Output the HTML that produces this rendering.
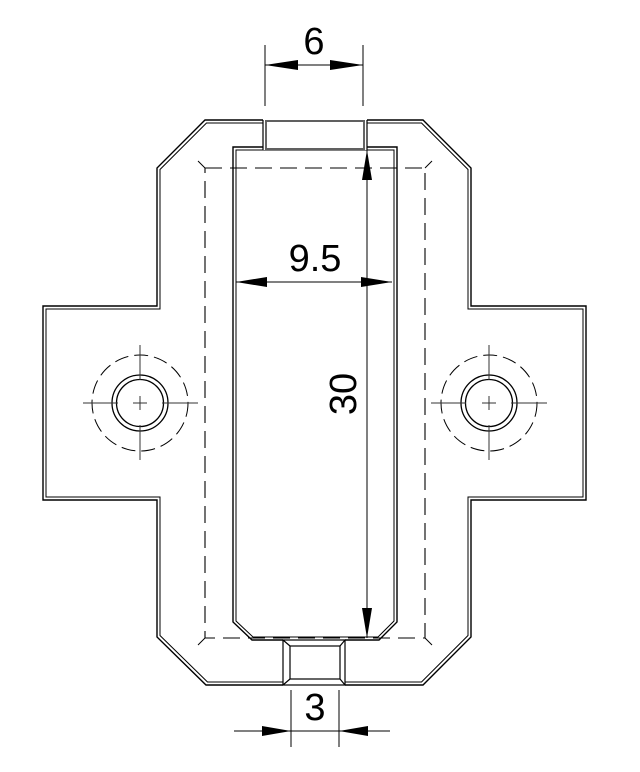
<!DOCTYPE html>
<html><head><meta charset="utf-8"><style>html,body{margin:0;padding:0;background:#fff}svg{display:block}</style></head>
<body>
<svg width="640" height="772" viewBox="0 0 640 772" xmlns="http://www.w3.org/2000/svg" font-family="Liberation Sans, sans-serif">
<g fill="none" stroke="#000" stroke-width="1.4">
<polygon points="205,120 423,120 471,168 471,306 586,306 586,500 471,500 471,637 423,685 206,685 157,637 157,500 43,500 43,306 157,306 157,168"/>
<polygon points="206.5,123 421.5,123 468,169.5 468,309 583,309 583,497 468,497 468,635.5 421.5,682 207.5,682 160,635.5 160,497 46,497 46,309 160,309 160,169.5" stroke-width="1"/>
<polygon points="233,147 397,147 397,622 379,640 252,640 233,622"/>
<polygon points="236,150 394,150 394,621 378,637 253,637 236,621" stroke-width="1"/>
</g>
<!-- top slot -->
<rect x="263" y="119" width="104" height="31" fill="#fff" stroke="none"/>
<g fill="none" stroke="#000" stroke-width="1.2">
<line x1="263" y1="120" x2="263" y2="150"/><line x1="266" y1="122" x2="266" y2="148"/>
<line x1="367" y1="120" x2="367" y2="150"/><line x1="364" y1="122" x2="364" y2="148"/>
<line x1="265" y1="121" x2="365" y2="121"/><line x1="265" y1="149" x2="365" y2="149"/>
</g>
<!-- bottom slot -->
<rect x="283" y="639" width="62" height="47" fill="#fff" stroke="none"/>
<g fill="none" stroke="#000" stroke-width="1.2">
<rect x="283" y="640" width="62" height="45"/>
<rect x="290" y="646" width="50" height="33"/>
<line x1="283" y1="640" x2="290" y2="646"/><line x1="345" y1="640" x2="340" y2="646"/>
<line x1="283" y1="685" x2="290" y2="679"/><line x1="345" y1="685" x2="340" y2="679"/>
</g>
<!-- dashed hidden rect -->
<g fill="none" stroke="#000" stroke-width="1.1" stroke-dasharray="17,8">
<rect x="205" y="168" width="220" height="470"/>
</g>
<g stroke="#000" stroke-width="1">
<line x1="198" y1="161" x2="205" y2="168"/><line x1="432" y1="161" x2="425" y2="168"/>
<line x1="198" y1="645" x2="205" y2="638"/><line x1="432" y1="645" x2="425" y2="638"/>
</g>
<!-- holes -->
<g fill="none" stroke="#000">
<circle cx="140" cy="403" r="28" stroke-width="1.3"/><circle cx="140" cy="403" r="23.5" stroke-width="1.3"/>
<circle cx="140" cy="403" r="48" stroke-width="1" stroke-dasharray="14,6"/>
<circle cx="489" cy="403" r="28" stroke-width="1.3"/><circle cx="489" cy="403" r="23.5" stroke-width="1.3"/>
<circle cx="489" cy="403" r="48" stroke-width="1" stroke-dasharray="14,6"/>
<g stroke-width="1" stroke="#333">
<path d="M83 403H118M133 403H147M162 403H198M140 345V380M140 396V410M140 425V460"/>
<path d="M431 403H466M482 403H496M511 403H547M489 345V380M489 396V410M489 425V460"/>
</g>
</g>
<!-- dimensions -->
<g stroke="#000" stroke-width="1" fill="none">
<line x1="265" y1="45" x2="265" y2="106"/><line x1="363" y1="45" x2="363" y2="106"/>
<line x1="265" y1="65" x2="363" y2="65"/>
<line x1="236" y1="282" x2="392" y2="282"/>
<line x1="367" y1="150" x2="367" y2="638"/>
<line x1="291" y1="690" x2="291" y2="747"/><line x1="339" y1="690" x2="339" y2="747"/>
<line x1="234" y1="731" x2="390" y2="731"/>
</g>
<g fill="#000">
<polygon points="265,65 298,60 298,70"/><polygon points="363,65 330,60 330,70"/>
<polygon points="236,282 267,277 267,287"/><polygon points="392,282 361,277 361,287"/>
<polygon points="367,150 362,180 372,180"/><polygon points="367,638 362,608 372,608"/>
<polygon points="291,731 262,726 262,736"/><polygon points="339,731 368,726 368,736"/>
</g>
<g font-size="38" fill="#000" text-anchor="middle">
<text x="314" y="54">6</text>
<text x="315" y="271">9.5</text>
<text x="315" y="720">3</text>
<text transform="translate(356,394) rotate(-90)" x="0" y="0">30</text>
</g>
</svg>
</body></html>
